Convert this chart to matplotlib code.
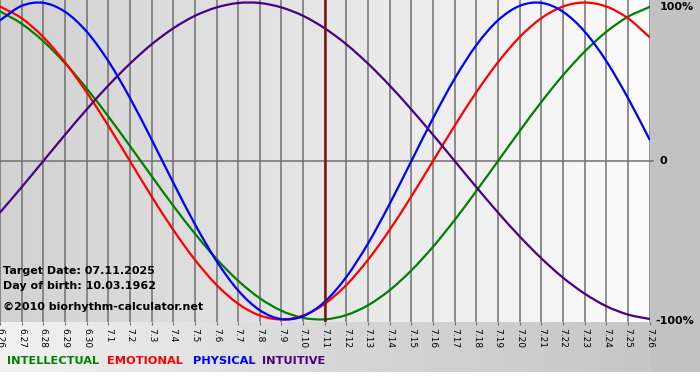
import numpy as np
import matplotlib
matplotlib.use('Agg')
import matplotlib.pyplot as plt
from matplotlib.colors import LinearSegmentedColormap
from matplotlib.path import Path
from matplotlib.patches import PathPatch

# day labels (month.day), 6.26 .. 7.26
DAYS = ['6.26', '6.27', '6.28', '6.29', '6.30',
        '7.1', '7.2', '7.3', '7.4', '7.5', '7.6', '7.7', '7.8', '7.9', '7.10',
        '7.11', '7.12', '7.13', '7.14', '7.15', '7.16', '7.17', '7.18', '7.19',
        '7.20', '7.21', '7.22', '7.23', '7.24', '7.25', '7.26']
TARGET_DAY = '7.11'

# daily values (-1 .. 1)
INTELLECTUAL = [0.945, 0.866, 0.756, 0.618, 0.458, 0.282, 0.095, -0.095, -0.282, -0.458,
                -0.618, -0.756, -0.866, -0.945, -0.990, -0.999, -0.972, -0.910, -0.815, -0.690,
                -0.541, -0.372, -0.189, 0.000, 0.189, 0.372, 0.541, 0.690, 0.815, 0.910, 0.972]
EMOTIONAL = [0.975, 0.901, 0.782, 0.623, 0.434, 0.223, 0.000, -0.223, -0.434, -0.623,
             -0.782, -0.901, -0.975, -1.000, -0.975, -0.901, -0.782, -0.623, -0.434, -0.223,
             0.000, 0.223, 0.434, 0.623, 0.782, 0.901, 0.975, 1.000, 0.975, 0.901, 0.782]
PHYSICAL = [0.888, 0.979, 0.998, 0.942, 0.817, 0.631, 0.398, 0.136, -0.136, -0.398,
            -0.631, -0.817, -0.942, -0.998, -0.979, -0.888, -0.731, -0.520, -0.270, 0.000,
            0.270, 0.520, 0.731, 0.888, 0.979, 0.998, 0.942, 0.817, 0.631, 0.398, 0.136]
INTUITIVE = [-0.325, -0.165, 0.000, 0.165, 0.325, 0.476, 0.614, 0.736, 0.837, 0.916,
             0.969, 0.997, 0.997, 0.969, 0.916, 0.837, 0.736, 0.614, 0.476, 0.325,
             0.165, 0.000, -0.165, -0.325, -0.476, -0.614, -0.736, -0.837, -0.916, -0.969, -0.997]

SERIES = [('INTELLECTUAL', INTELLECTUAL, '#008000'),
          ('EMOTIONAL', EMOTIONAL, '#ff0000'),
          ('PHYSICAL', PHYSICAL, '#0000ff'),
          ('INTUITIVE', INTUITIVE, '#4b0082')]

TARGET_TEXT = 'Target Date: 07.11.2025'
BIRTH_TEXT = 'Day of birth: 10.03.1962'
COPY_TEXT = '\u00a92010 biorhythm-calculator.net'

W, H = 700, 380
plt.rcParams['font.family'] = ['DejaVu Sans']


def smooth_path(xs, ys):
    # bezier path through the daily points (catmull-rom style handles)
    p = np.column_stack([xs, ys]).astype(float)
    ext = np.vstack([2 * p[0] - p[1], p, 2 * p[-1] - p[-2]])
    verts = [p[0]]
    codes = [Path.MOVETO]
    for i in range(len(p) - 1):
        c1 = ext[i + 1] + (ext[i + 2] - ext[i]) / 6
        c2 = ext[i + 2] - (ext[i + 3] - ext[i + 1]) / 6
        verts += [c1, c2, p[i + 1]]
        codes += [Path.CURVE4] * 3
    return Path(verts, codes)


fig = plt.figure(figsize=(W / 100, H / 100), dpi=100)
fig.patch.set_facecolor('white')

# page background: light on the left, grey on the right
bg = fig.add_axes([0, 8 / H, 1, 1 - 8 / H], zorder=0)
bg_cmap = LinearSegmentedColormap.from_list('bg', ['#f2f2f2', '#d6d6d6', '#c4c4c4'])
bg.imshow(np.linspace(0, 1, 256)[None, :], cmap=bg_cmap, aspect='auto',
          extent=[0, 1, 0, 1], transform=bg.transAxes)
bg.axis('off')

# right grey strip
strip = fig.add_axes([651 / W, 8 / H, 1 - 651 / W, 1 - 8 / H], zorder=0.5)
strip.set_facecolor('#c2c2c2')
strip.set_xticks([])
strip.set_yticks([])
for s in strip.spines.values():
    s.set_visible(False)

ax = fig.add_axes([0, 1 - 322 / H, 650 / W, 322 / H], zorder=1)
x = np.arange(len(DAYS))
plot_cmap = LinearSegmentedColormap.from_list('pl', ['#d2d2d2', '#e6e6e6', '#fcfcfc'])
ax.imshow(np.linspace(0, 1, 256)[None, :], cmap=plot_cmap, aspect='auto',
          extent=[0, 1, 0, 1], transform=ax.transAxes, zorder=0)

for xi in x:
    ax.axvline(xi, color='#707070', lw=1.1, zorder=1)
ax.plot([0, len(DAYS) - 1 + 0.15], [0, 0], color='#707070', lw=1.1, zorder=1, clip_on=False)

for name, vals, col in SERIES:
    ax.add_patch(PathPatch(smooth_path(x, vals), facecolor='none', edgecolor=col,
                           lw=1.6, zorder=3, capstyle='round'))

ti = DAYS.index(TARGET_DAY)
ax.axvline(ti, color='#7a1414', lw=1.8, zorder=4)

ax.set_xlim(0, len(DAYS) - 1 + 0.02)
ax.set_ylim(-1.016, 1.016)
ax.set_xticks(x)
ax.set_xticklabels(DAYS, rotation=-90, fontsize=6.5, va='top', ha='center')
ax.tick_params(axis='x', length=2, color='#707070', pad=2)
ax.set_yticks([])
for s in ax.spines.values():
    s.set_visible(False)

# right side percentage labels (pixel rows from the top)
for row, lab, xo in [(7, '100%', 660), (161, '0', 660), (321, '-100%', 655)]:
    fig.text(xo / W, 1 - row / H, lab, fontsize=8, fontweight='bold',
             va='center', ha='left', zorder=5)

# info text
for row, txt in [(271, TARGET_TEXT), (286, BIRTH_TEXT), (307, COPY_TEXT)]:
    ax.text(3 / 650, 1 - row / 322, txt, transform=ax.transAxes, fontsize=8,
            fontweight='bold', va='center', ha='left', zorder=5)

# legend row
leg_x = [7, 107, 193, 262]
for (name, vals, col), lx in zip(SERIES, leg_x):
    fig.text(lx / W, 1 - 361 / H, name, color=col, fontsize=8.2, fontweight='bold',
             va='center', ha='left', zorder=5)

fig.savefig('out.png', dpi=100)
